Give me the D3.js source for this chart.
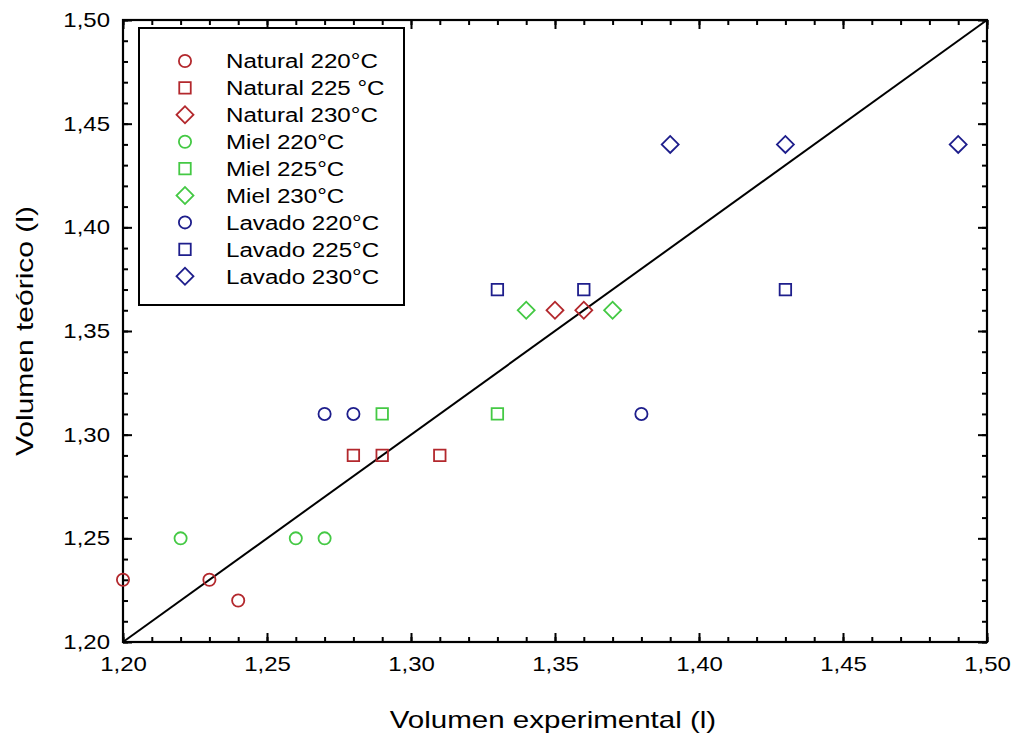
<!DOCTYPE html>
<html>
<head>
<meta charset="utf-8">
<script src="https://cdn.jsdelivr.net/npm/d3@7"></script>
<style>
  html, body { margin: 0; padding: 0; background: #fff; }
  svg { display: block; }
  text { font-family: "Liberation Sans", Arial, Helvetica, sans-serif; fill: #000; }
</style>
</head>
<body>
<svg id="chart" width="1017" height="735"></svg>
<script>
// ---- Data ----
const seriesNames = ["Natural 220°C", "Natural 225 °C", "Natural 230°C",
                     "Miel 220°C", "Miel 225°C", "Miel 230°C",
                     "Lavado 220°C", "Lavado 225°C", "Lavado 230°C"];
const seriesShapes = ["circle", "square", "diamond",
                      "circle", "square", "diamond",
                      "circle", "square", "diamond"];
const seriesColors = ["#b3282d", "#b3282d", "#b3282d",
                      "#44c944", "#44c944", "#44c944",
                      "#1e1e8c", "#1e1e8c", "#1e1e8c"];

const natural220 = [[1.20, 1.23], [1.23, 1.23], [1.24, 1.22]];
const natural225 = [[1.28, 1.29], [1.29, 1.29], [1.31, 1.29]];
const natural230 = [[1.35, 1.36], [1.36, 1.36]];
const miel220    = [[1.22, 1.25], [1.26, 1.25], [1.27, 1.25]];
const miel225    = [[1.29, 1.31], [1.33, 1.31]];
const miel230    = [[1.34, 1.36], [1.37, 1.36]];
const lavado220  = [[1.27, 1.31], [1.28, 1.31], [1.38, 1.31]];
const lavado225  = [[1.33, 1.37], [1.36, 1.37], [1.43, 1.37]];
const lavado230  = [[1.39, 1.44], [1.43, 1.44], [1.49, 1.44]];
const seriesData = [natural220, natural225, natural230, miel220, miel225, miel230,
                    lavado220, lavado225, lavado230];

const identityLine = [[1.20, 1.20], [1.50, 1.50]];

const xTickValues = [1.20, 1.25, 1.30, 1.35, 1.40, 1.45, 1.50];
const yTickValues = [1.20, 1.25, 1.30, 1.35, 1.40, 1.45, 1.50];
const minorTickValues = d3.range(0, 31).map(i => +(1.20 + i * 0.01).toFixed(2));

const xTitle = "Volumen experimental (l)";
const yTitle = "Volumen teórico (l)";

// ---- Layout ----
const L = 123, R = 987, T = 20, B = 642;
const SX = 1.2; // horizontal text stretch seen in reference

const svg = d3.select("#chart");
const x = d3.scaleLinear().domain([1.2, 1.5]).range([L, R]);
const y = d3.scaleLinear().domain([1.2, 1.5]).range([B, T]);
const fmt = d => d3.format(".2f")(d).replace(".", ",");

// identity line
svg.append("path")
  .datum(identityLine)
  .attr("d", d3.line().x(d => x(d[0])).y(d => y(d[1])))
  .attr("fill", "none").attr("stroke", "#000").attr("stroke-width", 2);

// axes (inward ticks)
function styleAxis(g) {
  g.select(".domain").remove();
  g.selectAll(".tick line").attr("stroke", "#000").attr("stroke-width", 2);
}
// minor
svg.append("g").attr("transform", `translate(0,${B})`)
  .call(d3.axisBottom(x).tickValues(minorTickValues).tickSize(-5).tickFormat(""))
  .call(styleAxis).selectAll("text").remove();
svg.append("g").attr("transform", `translate(0,${T})`)
  .call(d3.axisTop(x).tickValues(minorTickValues).tickSize(-5).tickFormat(""))
  .call(styleAxis).selectAll("text").remove();
svg.append("g").attr("transform", `translate(${L},0)`)
  .call(d3.axisLeft(y).tickValues(minorTickValues).tickSize(-5).tickFormat(""))
  .call(styleAxis).selectAll("text").remove();
svg.append("g").attr("transform", `translate(${R},0)`)
  .call(d3.axisRight(y).tickValues(minorTickValues).tickSize(-5).tickFormat(""))
  .call(styleAxis).selectAll("text").remove();

// major
const gx = svg.append("g").attr("transform", `translate(0,${B})`)
  .call(d3.axisBottom(x).tickValues(xTickValues).tickFormat(fmt).tickSize(-9).tickPadding(15))
  .call(styleAxis);
gx.selectAll("text").attr("font-size", 20).attr("font-family", "Liberation Sans, Arial")
  .attr("fill", "#000").attr("transform", `scale(${SX},1)`);

const gy = svg.append("g").attr("transform", `translate(${L},0)`)
  .call(d3.axisLeft(y).tickValues(yTickValues).tickFormat(fmt).tickSize(-9).tickPadding(13))
  .call(styleAxis);
gy.selectAll("text").attr("font-size", 20).attr("font-family", "Liberation Sans, Arial")
  .attr("fill", "#000").attr("x", -13 / SX).attr("transform", `scale(${SX},1)`);

svg.append("g").attr("transform", `translate(0,${T})`)
  .call(d3.axisTop(x).tickValues(xTickValues).tickSize(-9).tickFormat(""))
  .call(styleAxis).selectAll("text").remove();
svg.append("g").attr("transform", `translate(${R},0)`)
  .call(d3.axisRight(y).tickValues(yTickValues).tickSize(-9).tickFormat(""))
  .call(styleAxis).selectAll("text").remove();

// frame
svg.append("rect").attr("x", L).attr("y", T).attr("width", R - L).attr("height", B - T)
  .attr("fill", "none").attr("stroke", "#000").attr("stroke-width", 2.2);

// markers
function drawMarker(g, shape, color) {
  if (shape === "circle") {
    g.append("circle").attr("r", 6.1)
      .attr("fill", "none").attr("stroke", color).attr("stroke-width", 1.8);
  } else if (shape === "square") {
    g.append("path").attr("d", d3.symbol().type(d3.symbolSquare).size(132)())
      .attr("fill", "none").attr("stroke", color).attr("stroke-width", 1.8);
  } else {
    g.append("path").attr("d", d3.symbol().type(d3.symbolSquare).size(144)())
      .attr("transform", "rotate(45)")
      .attr("fill", "none").attr("stroke", color).attr("stroke-width", 1.8);
  }
}

seriesData.forEach((data, i) => {
  const grp = svg.append("g");
  data.forEach(d => {
    const m = grp.append("g").attr("transform", `translate(${x(d[0])},${y(d[1])})`);
    drawMarker(m, seriesShapes[i], seriesColors[i]);
  });
});

// legend
const lg = svg.append("g");
lg.append("rect").attr("x", 139).attr("y", 28).attr("width", 265).attr("height", 277)
  .attr("fill", "#fff").attr("stroke", "#000").attr("stroke-width", 2);
seriesNames.forEach((name, i) => {
  const yy = 61 + i * 26.9;
  const m = lg.append("g").attr("transform", `translate(185,${yy})`);
  drawMarker(m, seriesShapes[i], seriesColors[i]);
  lg.append("text").attr("transform", `translate(226,${yy}) scale(1.15,1)`)
    .attr("dy", "0.35em").attr("font-size", 21).text(name);
});

// titles
svg.append("text").attr("transform", `translate(553,728) scale(1.23,1)`)
  .attr("text-anchor", "middle").attr("font-size", 24).text(xTitle);
svg.append("text").attr("transform", `translate(33,331) rotate(-90) scale(1.25,1)`)
  .attr("text-anchor", "middle").attr("font-size", 24).text(yTitle);
</script>
</body>
</html>
